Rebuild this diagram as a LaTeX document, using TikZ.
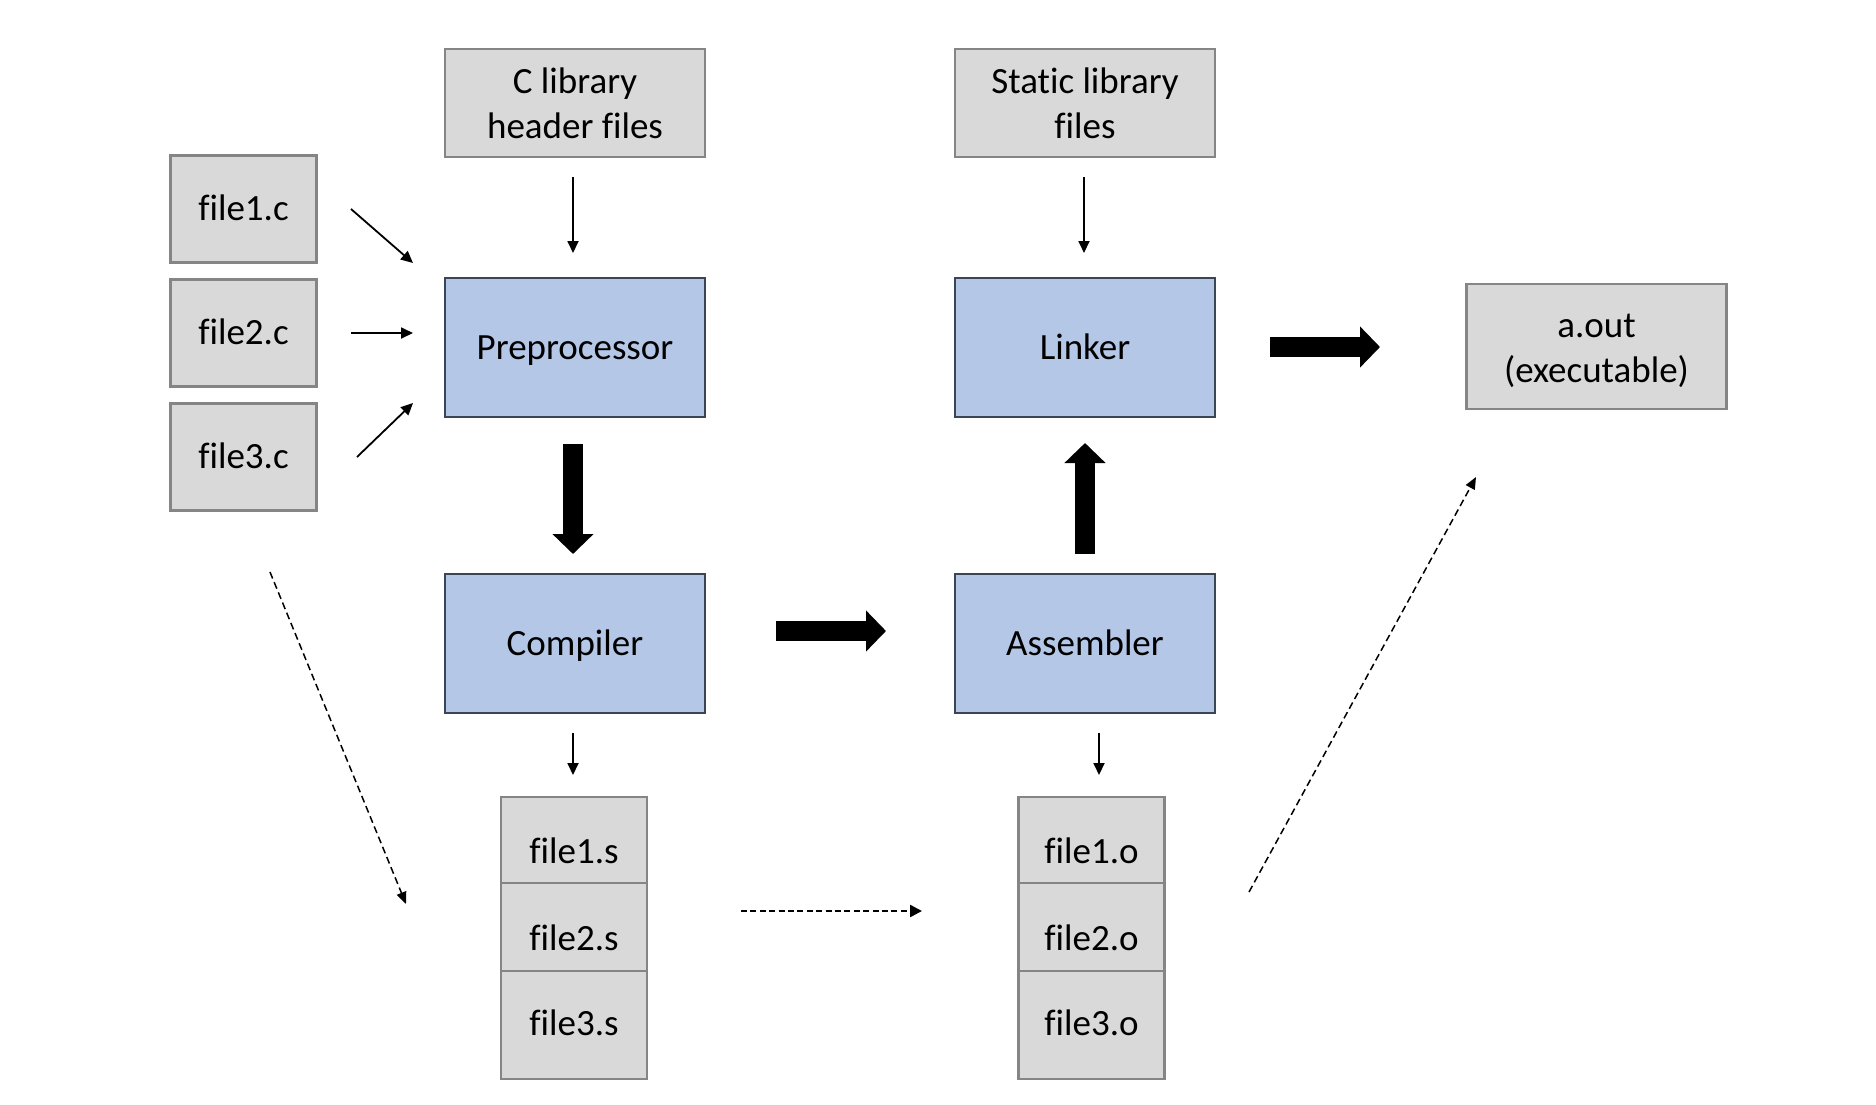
\documentclass[tikz,border=0pt]{standalone}
\usepackage{fontspec}
\setmainfont{Carlito}[Ligatures=NoCommon]
\usetikzlibrary{arrows.meta}
\definecolor{boxgray}{HTML}{D9D9D9}
\definecolor{edgegray}{HTML}{858585}
\definecolor{boxblue}{HTML}{B4C7E7}
\definecolor{edgeblue}{HTML}{3A4556}
\tikzset{
  base/.style={inner sep=0pt, line width=2.2pt, font=\fontsize{37}{45}\selectfont, align=center},
  graybox/.style={base, draw=edgegray, fill=boxgray},
  bluebox/.style={base, draw=edgeblue, fill=boxblue, minimum width=260pt, minimum height=139pt, text height=30pt, text depth=7pt},
  srcbox/.style={graybox, minimum width=146pt, minimum height=107pt, text height=30pt, text depth=8pt},
  libbox/.style={graybox, minimum width=260pt, minimum height=108pt},
  cell/.style={graybox, minimum width=146pt, text depth=0pt},
  thin/.style={line width=1.8pt, -{Triangle[length=12pt,width=11pt]}},
  thick/.style={line width=20pt, line cap=butt, -{Triangle[length=20pt,width=40pt]}},
  dashedarrow/.style={line width=1.5pt, dash pattern=on 7pt off 4pt, -{Triangle[length=12pt,width=10pt]}},
  densearrow/.style={line width=2.4pt, dash pattern=on 6pt off 3.4pt, -{Triangle[length=12pt,width=12pt]}}
}
\begin{document}
\begin{tikzpicture}[x=1pt,y=-1pt]
\useasboundingbox (0,0) rectangle (1876,1104);
% source files
\node[srcbox] (f1c) at (243.5,209) {file1.c};
\node[srcbox] (f2c) at (243.5,333) {file2.c};
\node[srcbox] (f3c) at (243.5,457) {file3.c};
% libraries
\node[libbox] (hdr) at (575,103) {C library\\header files};
\node[libbox] (slib) at (1085,103) {Static library\\files};
% stages
\node[bluebox] (pre) at (575,347.5) {Preprocessor};
\node[bluebox] (lnk) at (1085,347.5) {Linker};
\node[bluebox] (cmp) at (575,643.5) {Compiler};
\node[bluebox] (asm) at (1085,643.5) {Assembler};
% output
\node[graybox, minimum width=260pt, minimum height=125pt] (aout) at (1596.5,346.5) {\rule{0pt}{33pt}a.out\\(executable)};
% .s stack
\node[cell, minimum height=86pt, text height=46pt] (s1) at (574,840) {file1.s};
\node[cell, minimum height=88pt, text height=46pt] (s2) at (574,927) {file2.s};
\node[cell, minimum height=108pt, text height=20pt] (s3) at (574,1025) {file3.s};
% .o stack
\node[cell, minimum height=86pt, text height=46pt] (o1) at (1091.5,840) {file1.o};
\node[cell, minimum height=88pt, text height=46pt] (o2) at (1091.5,927) {file2.o};
\node[cell, minimum height=108pt, text height=20pt] (o3) at (1091.5,1025) {file3.o};
% connector end points
\coordinate (a1s) at (351,209);   \coordinate (a1e) at (413,263);
\coordinate (a2s) at (351,333);   \coordinate (a2e) at (413,333);
\coordinate (a3s) at (357,457);   \coordinate (a3e) at (413,403);
\coordinate (hs) at (573,177);    \coordinate (he) at (573,253);
\coordinate (ls) at (1084,177);   \coordinate (le) at (1084,253);
\coordinate (pcs) at (573,444);   \coordinate (pce) at (573,554);
\coordinate (cas) at (776,631);   \coordinate (cae) at (886,631);
\coordinate (als) at (1085,554);  \coordinate (ale) at (1085,443);
\coordinate (los) at (1270,347);  \coordinate (loe) at (1380,347);
\coordinate (css) at (573,733);   \coordinate (cse) at (573,775);
\coordinate (aos) at (1099,733);  \coordinate (aoe) at (1099,775);
\coordinate (d1s) at (270,572);   \coordinate (d1e) at (406,904);
\coordinate (d2s) at (741,911);   \coordinate (d2e) at (922,911);
\coordinate (d3s) at (1249,892);  \coordinate (d3e) at (1476,477);
% thin arrows
\draw[thin] (a1s) -- (a1e);
\draw[thin] (a2s) -- (a2e);
\draw[thin] (a3s) -- (a3e);
\draw[thin] (hs) -- (he);
\draw[thin] (ls) -- (le);
\draw[thin] (css) -- (cse);
\draw[thin] (aos) -- (aoe);
% thick arrows
\draw[thick] (pcs) -- (pce);
\draw[thick] (cas) -- (cae);
\draw[thick] (als) -- (ale);
\draw[thick] (los) -- (loe);
% dashed arrows
\draw[dashedarrow] (d1s) -- (d1e);
\draw[densearrow] (d2s) -- (d2e);
\draw[dashedarrow] (d3s) -- (d3e);
\end{tikzpicture}
\end{document}
